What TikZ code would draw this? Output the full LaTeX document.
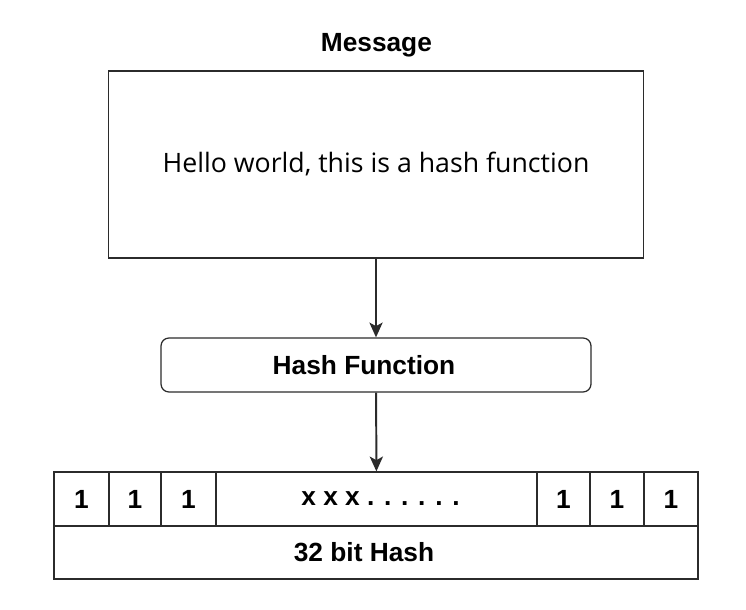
\documentclass[tikz,border=0pt]{standalone}
\usepackage{fontspec}
\setmainfont{Liberation Sans}
\newfontfamily\msgfont{Open Sans}
\usepackage{tikz}
\usetikzlibrary{arrows.meta, positioning}
\definecolor{Box_Gray}{HTML}{2B2B2B}

\tikzset{
  box/.style={draw=Box_Gray, line width=0.9pt, inner sep=0pt},
  lbl/.style={font=\bfseries\fontsize{18.7}{22}\selectfont},
  arr/.style={-{Stealth[length=3.7mm,width=3.3mm,inset=0.9mm]}, line width=1.4pt, Box_Gray},
}

\begin{document}
\begin{tikzpicture}
  \useasboundingbox (0,0) rectangle (18.65,-15.25);

  % Message box and its title
  \node[lbl] (title) at (9.41,-1.13) {Message};
  \node[box, minimum width=13.375cm, minimum height=4.675cm, font=\msgfont\fontsize{19}{23}\selectfont] (msg) at (9.4,-4.1125) {Hello world, this is a hash function};

  % Hash function
  \node[box, lbl, rounded corners=2mm, minimum width=10.75cm, minimum height=1.35cm] (hash) at (9.4,-9.125) {\hspace*{-0.6cm}Hash Function};

  % Output: 32 bit hash
  \node[box, lbl, minimum width=16.1cm, minimum height=1.325cm] (out) at (9.4,-13.8125) {\hspace*{-0.6cm}32 bit Hash};
  \foreach \name/\xa/\xb/\txt in {c1/1.35/2.725/1, c2/2.725/4.025/1, c3/4.025/5.4/1, c4/5.4/13.425/{\hspace*{0.2cm}x x x . . . . . .}, c5/13.425/14.75/1, c6/14.75/16.1/1, c7/16.1/17.45/1} {
    \pgfmathsetmacro{\cellw}{\xb-\xa}
    \pgfmathsetmacro{\cellx}{(\xa+\xb)/2}
    \node[box, lbl, minimum width=\cellw cm, minimum height=1.35cm] (\name) at (\cellx,-12.475) {\txt};
  }

  % Arrows
  \draw[arr] (msg) -- (hash);
  \draw[arr] (hash) -- (c4);
\end{tikzpicture}
\end{document}
